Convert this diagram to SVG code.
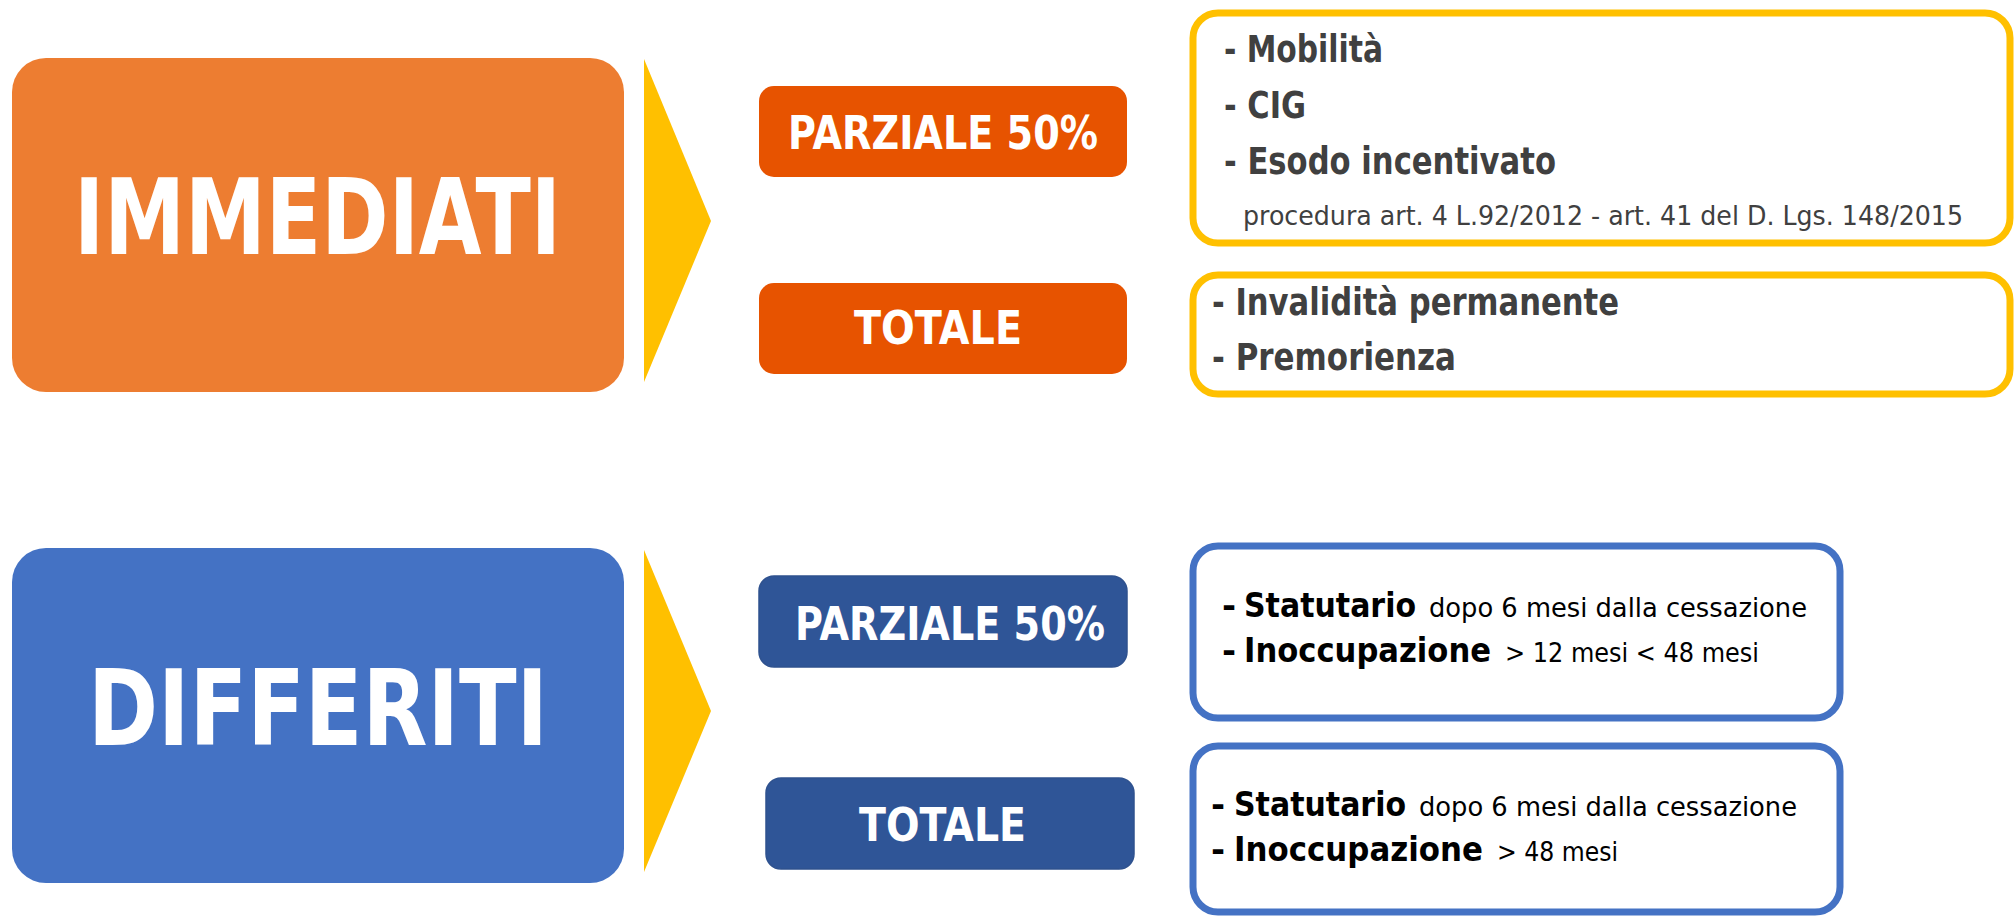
<svg xmlns="http://www.w3.org/2000/svg" width="2016" height="918" viewBox="0 0 2016 918">
<style>
  .t { font-family: "DejaVu Sans", "Liberation Sans", sans-serif; }
  .big { font-size: 106px; font-weight: bold; fill: #ffffff; }
  .lab { font-size: 46px; font-weight: bold; fill: #ffffff; }
  .li { font-size: 37px; font-weight: bold; fill: #404040; }
  .note { font-size: 27px; font-weight: normal; fill: #404040; }
  .bb { font-size: 34px; font-weight: bold; fill: #000000; }
  .br { font-size: 26px; font-weight: normal; fill: #000000; }
  .yb { fill: #ffffff; stroke: #FFC000; stroke-width: 7; }
  .blb { fill: #ffffff; stroke: #4472C4; stroke-width: 7; }
  .org { fill: #E75300; }
  .dblue { fill: #2F5597; stroke: #2F528F; stroke-width: 1.5; }
</style>
<rect width="2016" height="918" fill="#ffffff"/>

<g id="connectors">
  <polygon points="644,59 711,221 644,382" fill="#FFC000"/>
  <polygon points="644,550 711,711 644,872" fill="#FFC000"/>
</g>

<g id="immediati">
  <rect x="12" y="58" width="612" height="334" rx="34" fill="#ED7D31"/>
  <text class="t big" x="74" y="254" textLength="487" lengthAdjust="spacingAndGlyphs">IMMEDIATI</text>
</g>

<g id="differiti">
  <rect x="12" y="548" width="612" height="335" rx="34" fill="#4472C4"/>
  <text class="t big" x="88" y="745" textLength="460" lengthAdjust="spacingAndGlyphs">DIFFERITI</text>
</g>

<g id="imm-parziale">
  <rect class="org" x="759" y="86" width="368" height="91" rx="15"/>
  <text class="t lab" x="788" y="149" textLength="310" lengthAdjust="spacingAndGlyphs">PARZIALE 50%</text>
</g>

<g id="imm-totale">
  <rect class="org" x="759" y="283" width="368" height="91" rx="15"/>
  <text class="t lab" x="854" y="344" textLength="168" lengthAdjust="spacingAndGlyphs">TOTALE</text>
</g>

<g id="diff-parziale">
  <rect class="dblue" x="759" y="576" width="368" height="91" rx="15"/>
  <text class="t lab" x="795" y="640" textLength="310" lengthAdjust="spacingAndGlyphs">PARZIALE 50%</text>
</g>

<g id="diff-totale">
  <rect class="dblue" x="766" y="778" width="368" height="91" rx="15"/>
  <text class="t lab" x="859" y="841" textLength="167" lengthAdjust="spacingAndGlyphs">TOTALE</text>
</g>

<g id="imm-parziale-desc">
  <rect class="yb" x="1193" y="13" width="817" height="230" rx="25"/>
  <text class="t li" x="1224" y="62" textLength="159" lengthAdjust="spacingAndGlyphs">- Mobilità</text>
  <text class="t li" x="1224" y="118" textLength="82" lengthAdjust="spacingAndGlyphs">- CIG</text>
  <text class="t li" x="1224" y="174" textLength="332" lengthAdjust="spacingAndGlyphs">- Esodo incentivato</text>
  <text class="t note" x="1243" y="225" textLength="720" lengthAdjust="spacingAndGlyphs">procedura art. 4 L.92/2012 - art. 41 del D. Lgs. 148/2015</text>
</g>

<g id="imm-totale-desc">
  <rect class="yb" x="1193" y="275" width="817" height="119" rx="25"/>
  <text class="t li" x="1212" y="315" textLength="407" lengthAdjust="spacingAndGlyphs">- Invalidità permanente</text>
  <text class="t li" x="1212" y="370" textLength="244" lengthAdjust="spacingAndGlyphs">- Premorienza</text>
</g>

<g id="diff-parziale-desc">
  <rect class="blb" x="1193" y="546" width="647" height="172" rx="25"/>
  <text class="t bb" y="617"><tspan x="1222">-</tspan><tspan x="1244" textLength="172" lengthAdjust="spacingAndGlyphs">Statutario</tspan><tspan class="br" x="1429" textLength="378" lengthAdjust="spacingAndGlyphs">dopo 6 mesi dalla cessazione</tspan></text>
  <text class="t bb" y="662"><tspan x="1222">-</tspan><tspan x="1244" textLength="247" lengthAdjust="spacingAndGlyphs">Inoccupazione</tspan><tspan class="br" x="1505" textLength="254" lengthAdjust="spacingAndGlyphs">&gt; 12 mesi &lt; 48 mesi</tspan></text>
</g>

<g id="diff-totale-desc">
  <rect class="blb" x="1193" y="746" width="647" height="166" rx="25"/>
  <text class="t bb" y="816"><tspan x="1211">-</tspan><tspan x="1234" textLength="172" lengthAdjust="spacingAndGlyphs">Statutario</tspan><tspan class="br" x="1419" textLength="378" lengthAdjust="spacingAndGlyphs">dopo 6 mesi dalla cessazione</tspan></text>
  <text class="t bb" y="861"><tspan x="1211">-</tspan><tspan x="1234" textLength="249" lengthAdjust="spacingAndGlyphs">Inoccupazione</tspan><tspan class="br" x="1497" textLength="121" lengthAdjust="spacingAndGlyphs">&gt; 48 mesi</tspan></text>
</g>
</svg>
